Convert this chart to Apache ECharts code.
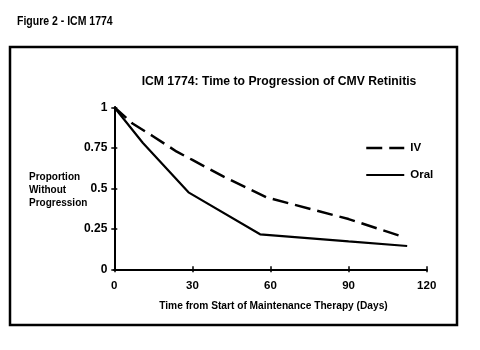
<!DOCTYPE html>
<html>
<head>
<meta charset="utf-8">
<script src="https://cdn.jsdelivr.net/npm/echarts@6/dist/echarts.min.js"></script>
<style>
html,body{margin:0;padding:0;background:#fff;}
#chart{width:480px;height:350px;}
</style>
</head>
<body>
<div id="chart"></div>
<script>
var figureLabel = 'Figure 2 - ICM 1774';
var chartTitle = 'ICM 1774: Time to Progression of CMV Retinitis';
var xAxisTitle = 'Time from Start of Maintenance Therapy (Days)';
var yAxisTitleLines = ['Proportion', 'Without', 'Progression'];
var seriesNames = ['IV', 'Oral'];
var ivDays = [0, 7, 15, 24, 30, 42, 58.5, 90, 111];
var ivValues = [1, 0.90, 0.82, 0.726, 0.675, 0.572, 0.444, 0.31, 0.20];
var oralDays = [0, 11, 28.5, 56, 90, 112.5];
var oralValues = [1, 0.78, 0.475, 0.216, 0.172, 0.144];
var xTicks = [0, 30, 60, 90, 120];
var yTicks = [0, 0.25, 0.5, 0.75, 1];

function pairs(xs, ys) { return xs.map(function (x, i) { return [x, ys[i]]; }); }

var FONT = '"Liberation Sans", Arial, sans-serif';
var ivLine = {color: '#000', width: 2.5, type: [16, 7]};
var oralLine = {color: '#000', width: 2.2, type: 'solid'};
var chart = echarts.init(document.getElementById('chart'), null, {renderer: 'canvas'});
var axisCommon = {
  axisLine: {show: true, lineStyle: {color: '#000', width: 2}},
  splitLine: {show: false}
};
chart.setOption({
  backgroundColor: '#fff',
  animation: false,
  title: {
    text: chartTitle,
    left: 279, top: 76, textAlign: 'center', padding: 0,
    textStyle: {fontFamily: FONT, fontWeight: 'bold', fontSize: 12.2, color: '#000'}
  },
  legend: {
    orient: 'vertical', left: 365, top: 142, padding: 0,
    itemWidth: 38, itemHeight: 12, itemGap: 15,
    textStyle: {fontFamily: FONT, fontWeight: 'bold', fontSize: 11.5, color: '#000', padding: [0, 0, 0, 1]},
    data: [
      {name: seriesNames[0], itemStyle: {opacity: 0, borderWidth: 0}, lineStyle: ivLine},
      {name: seriesNames[1], itemStyle: {opacity: 0, borderWidth: 0}, lineStyle: oralLine}
    ]
  },
  grid: {left: 114.3, right: 53.3, top: 107.3, bottom: 80.7},
  xAxis: [
    Object.assign({
      type: 'value', min: xTicks[0], max: xTicks[xTicks.length - 1], interval: 30,
      axisTick: {show: true, length: 3, lineStyle: {color: '#000', width: 1.5}},
      axisLabel: {margin: 11, fontFamily: FONT, fontWeight: 'bold', fontSize: 11.5, color: '#000'},
      name: xAxisTitle, nameLocation: 'middle', nameGap: 32,
      nameTextStyle: {fontFamily: FONT, fontWeight: 'bold', fontSize: 10.2, color: '#000', padding: [0, 0, 0, 6]}
    }, axisCommon),
    Object.assign({
      type: 'value', min: 0, max: 120, interval: 30, position: 'bottom', gridIndex: 0,
      axisTick: {show: true, inside: true, length: 3, lineStyle: {color: '#000', width: 1.5}},
      axisLabel: {show: false}
    }, axisCommon)
  ],
  yAxis: [
    Object.assign({
      type: 'value', min: yTicks[0], max: yTicks[yTicks.length - 1], interval: 0.25,
      axisTick: {show: true, length: 3, lineStyle: {color: '#000', width: 1.5}},
      axisLabel: {margin: 7, fontFamily: FONT, fontWeight: 'bold', fontSize: 12, color: '#000'}
    }, axisCommon),
    Object.assign({
      type: 'value', min: 0, max: 1, interval: 0.25, position: 'left',
      axisTick: {show: true, inside: true, length: 3, lineStyle: {color: '#000', width: 1.5}},
      axisLabel: {show: false}
    }, axisCommon)
  ],
  graphic: [
    {type: 'rect', shape: {x: 10, y: 47, width: 447, height: 278},
     style: {fill: 'none', stroke: '#000', lineWidth: 2.5}},
    {type: 'text', x: 17, y: 15, scaleX: 0.84,
     style: {text: figureLabel, fontFamily: FONT, fontWeight: 'bold', fontSize: 12.5, fill: '#000'}},
    {type: 'text', left: 29, top: 171,
     style: {text: yAxisTitleLines.join('\n'), lineHeight: 13, fontFamily: FONT, fontWeight: 'bold', fontSize: 10, fill: '#000'}}
  ],
  series: [
    {name: seriesNames[0], type: 'line', data: pairs(ivDays, ivValues), symbol: 'none',
     lineStyle: ivLine, itemStyle: {color: '#000'}},
    {name: seriesNames[1], type: 'line', data: pairs(oralDays, oralValues), symbol: 'none',
     lineStyle: oralLine, itemStyle: {color: '#000'}}
  ]
});
</script>
</body>
</html>
